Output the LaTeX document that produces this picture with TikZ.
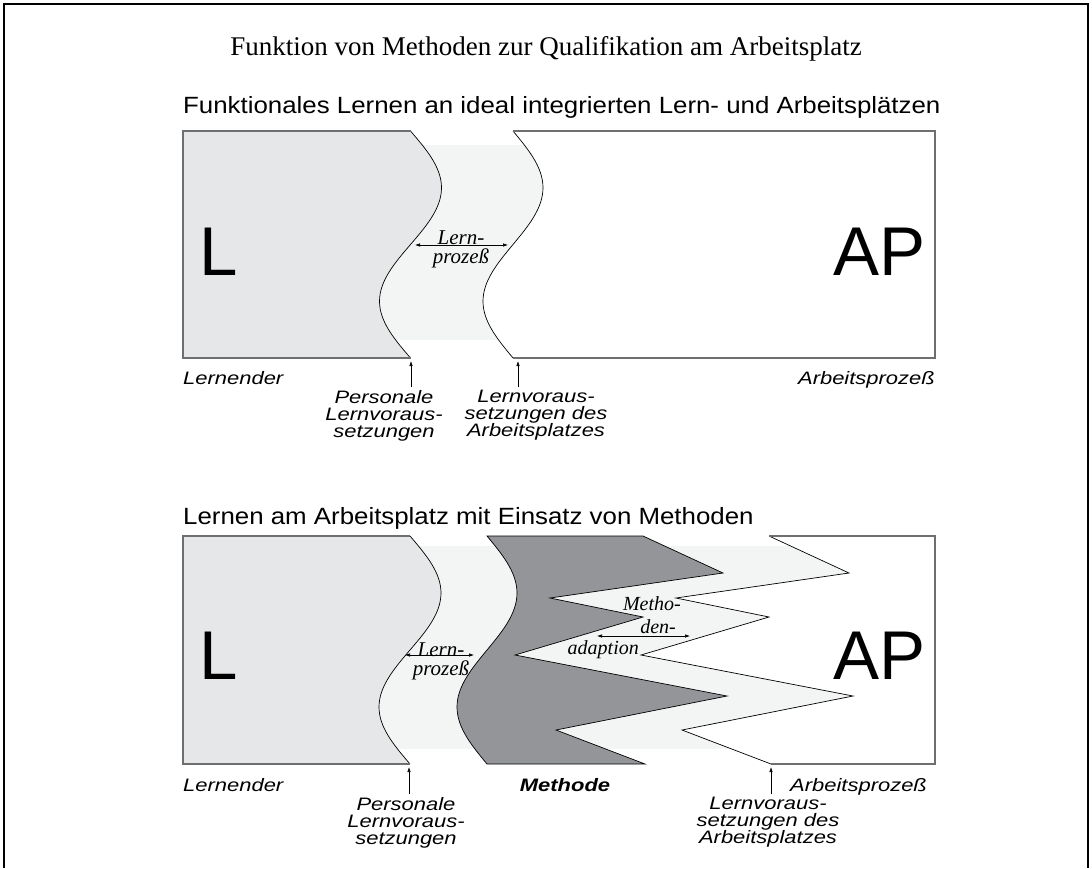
\documentclass[tikz,border=0pt]{standalone}
\usepackage{fontspec}
\setmainfont{Liberation Serif}
\setsansfont{Liberation Sans}
\newfontfamily\labfont[FakeStretch=1.22]{Liberation Sans}
\newfontfamily\headfont[FakeStretch=1.1]{Liberation Sans}
\definecolor{lgray}{RGB}{230,231,232}
\definecolor{pale}{RGB}{243,244,244}
\definecolor{dgray}{RGB}{147,149,152}
\definecolor{rimgray}{RGB}{110,111,113}
\usetikzlibrary{arrows.meta}

\begin{document}
\lineskiplimit=-50pt
\begin{tikzpicture}[x=1pt, y=-1pt,
        wv/.style={domain=0:360, samples=61, smooth},
        waveline/.style={line width=0.7pt},
        rim/.style={draw=rimgray, line width=1.4pt},
        lab/.style={font=\fontsize{18}{17}\selectfont\labfont\itshape,
                    align=center, inner sep=0pt},
        proc/.style={font=\fontsize{21}{19}\selectfont\itshape,
                     align=center, inner sep=0pt},
        big/.style={font=\fontsize{69}{69}\selectfont\sffamily, inner sep=0pt},
        head/.style={font=\fontsize{23.5}{26}\selectfont\headfont, inner sep=0pt},
        uparr/.style={-{Latex[length=5pt,width=3.5pt]}, line width=0.6pt, shorten <=3pt},
        twoarr/.style={{Latex[length=5pt,width=3.5pt]}-{Latex[length=5pt,width=3.5pt]},
                       line width=0.6pt}]
        \useasboundingbox (0,0) rectangle (1092,868);
        % Frame
        \draw[line width=2pt] (4,868) -- (4,4) -- (1088,4) -- (1088,868);
        % Titles
        \node[font=\fontsize{27}{30}\selectfont, anchor=base, inner sep=0pt] (title)
          at (546,55) {Funktion von Methoden zur Qualifikation am Arbeitsplatz};
        \node[head, anchor=base west] (head1) at (183,113)
          {Funktionales Lernen an ideal integrierten Lern- und Arbeitsplätzen};
        % Top panel
        \fill[pale] (375,145) rectangle (548,340);
        \fill[lgray] (183,131) -- plot[wv] ({410.5+31*sin(\x)},{131+0.63056*\x})
          -- (183,358) -- cycle;
        \draw[waveline] plot[wv] ({410.5+31*sin(\x)},{131+0.63056*\x});
        \draw[rim] (410.5,131) -- (183,131) -- (183,358) -- (410.5,358);
        \fill[white] plot[wv] ({513+30*sin(\x)},{131+0.63056*\x})
          -- (935,358) -- (935,131) -- cycle;
        \draw[waveline] plot[wv] ({513+30*sin(\x)},{131+0.63056*\x});
        \draw[rim] (513,131) -- (935,131) -- (935,358) -- (513,358);
        \node[big, anchor=base west] (L1) at (199,275) {L};
        \node[big, anchor=base east] (AP1) at (926,275) {AP};
        \coordinate (lp1a) at (415,245);
        \coordinate (lp1b) at (508,245);
        \draw[twoarr] (lp1a) -- (lp1b);
        \node[proc] (lp1) at (461,249) {Lern-\\prozeß};
        % Top labels
        \node[lab, anchor=base west] (ler1) at (183,384) {Lernender};
        \node[lab, anchor=base east] (arb1) at (935,384) {Arbeitsprozeß};
        \node[lab, anchor=north] (pers1) at (384,390)
          {Personale\\Lernvoraus-\\setzungen};
        \node[lab, anchor=north] (vor1) at (536,390)
          {Lernvoraus-\\setzungen des\\Arbeitsplatzes};
        \coordinate (lb1) at (411,361);
        \coordinate (rb1) at (518,361);
        \draw[uparr] (pers1.north -| lb1) -- (lb1);
        \draw[uparr] (vor1.north -| rb1) -- (rb1);
        % Bottom panel
        \node[head, anchor=base west] (head2) at (183,524)
          {Lernen am Arbeitsplatz mit Einsatz von Methoden};
        \fill[pale] (375,546) rectangle (860,749);
        \fill[lgray] (183,536) -- plot[wv] ({410+31*sin(\x)},{536+0.63333*\x})
          -- (183,764) -- cycle;
        \draw[waveline] plot[wv] ({410+31*sin(\x)},{536+0.63333*\x});
        \draw[rim] (410,536) -- (183,536) -- (183,764) -- (410,764);
        % Methode
        \filldraw[fill=dgray, waveline] plot[wv] ({487+30*sin(\x)},{536+0.63333*\x})
          -- (645,764) -- (556,730) -- (727,696) -- (515,655) -- (643,617)
          -- (550,598) -- (723,573) -- (643,536) -- cycle;
        % Arbeitsplatz
        \fill[white] (769,536) -- (849,573) -- (676,598) -- (769,617) -- (641,655)
          -- (853,696) -- (682,730) -- (771,764) -- (935,764) -- (935,536) -- cycle;
        \draw[waveline] (769,536) -- (849,573) -- (676,598) -- (769,617) -- (641,655)
          -- (853,696) -- (682,730) -- (771,764);
        \draw[rim] (771,764) -- (935,764) -- (935,536) -- (769,536);
        \node[big, anchor=base west] (L2) at (199,679) {L};
        \node[big, anchor=base east] (AP2) at (926,679) {AP};
        \coordinate (lp2a) at (405,655);
        \coordinate (lp2b) at (474,655);
        \draw[twoarr] (lp2a) -- (lp2b);
        \node[proc] (lp2) at (441,661) {Lern-\\prozeß};
        \coordinate (ma1) at (597,636);
        \coordinate (ma2) at (690,636);
        \draw[twoarr] (ma1) -- (ma2);
        \node[proc, font=\fontsize{20}{20}\selectfont\itshape, anchor=base east] (meth1)
          at (681,610) {Metho-};
        \node[proc, font=\fontsize{20}{20}\selectfont\itshape, anchor=base east] (meth2)
          at (676,633) {den-};
        \node[proc, font=\fontsize{20}{20}\selectfont\itshape, anchor=base east] (meth3)
          at (639,654) {adaption};
        % Bottom labels
        \node[lab, anchor=base west] (ler2) at (183,791) {Lernender};
        \node[lab, anchor=base] (met2) at (565,791) {\bfseries Methode};
        \node[lab, anchor=base west] (arb2) at (790,791) {Arbeitsprozeß};
        \node[lab, anchor=north] (pers2) at (406,797)
          {Personale\\Lernvoraus-\\setzungen};
        \node[lab, anchor=north] (vor2) at (768,797)
          {Lernvoraus-\\setzungen des\\Arbeitsplatzes};
        \coordinate (lb2) at (409,767);
        \coordinate (rb2) at (771,767);
        \draw[uparr] (pers2.north -| lb2) -- (lb2);
        \draw[uparr] (vor2.north -| rb2) -- (rb2);
      \end{tikzpicture}
\end{document}
